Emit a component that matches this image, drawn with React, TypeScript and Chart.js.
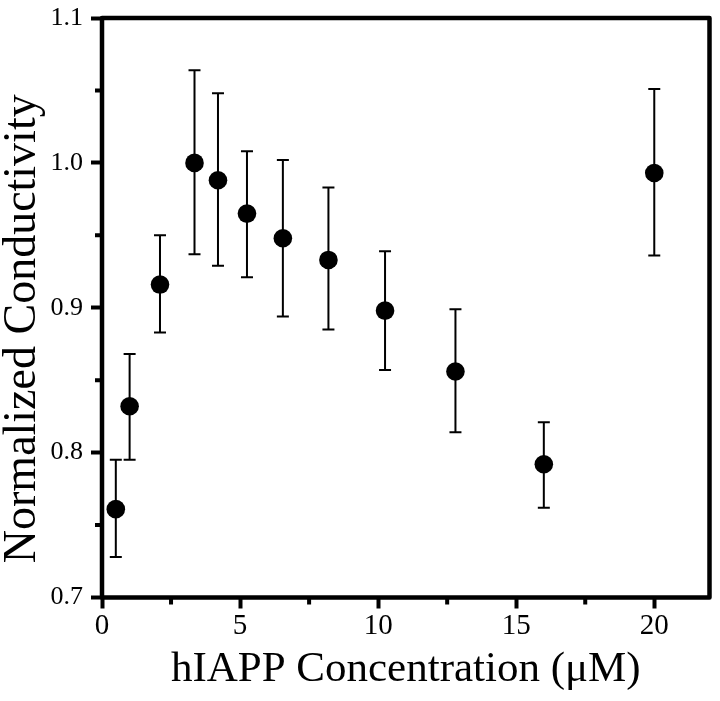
import { useEffect, useRef } from 'react';
import { Chart, registerables } from 'chart.js';

Chart.register(...registerables);

// hIAPP concentration (µM)
const concentrations = [0.5, 1.0, 2.1, 3.35, 4.2, 5.25, 6.55, 8.2, 10.25, 12.8, 16.0, 20.0];
// normalized conductivity (mean)
const conductivity = [0.761, 0.832, 0.916, 1.0, 0.988, 0.965, 0.948, 0.933, 0.898, 0.856, 0.792, 0.993];
// upper / lower ends of the error bars
const errHigh = [0.795, 0.868, 0.95, 1.064, 1.048, 1.008, 1.002, 0.983, 0.939, 0.899, 0.821, 1.051];
const errLow = [0.728, 0.795, 0.883, 0.937, 0.929, 0.921, 0.894, 0.885, 0.857, 0.814, 0.762, 0.936];

const xMajorTicks = [0, 5, 10, 15, 20];
const xMinorTicks = [2.5, 7.5, 12.5, 17.5];
const yMajorTicks = [0.7, 0.8, 0.9, 1.0, 1.1];
const yMinorTicks = [0.75, 0.85, 0.95, 1.05];

const xTitle = 'hIAPP Concentration (\u03bcM)';
const yTitle = 'Normalized Conductivity';

const FONT = '"Liberation Serif", "Times New Roman", serif';

const decorPlugin = {
  id: 'decor',
  beforeDatasetsDraw(chart: any) {
    const { ctx } = chart;
    const xs = chart.scales.x;
    const ys = chart.scales.y;
    ctx.save();
    ctx.strokeStyle = '#000';
    ctx.lineWidth = 2;
    ctx.lineCap = 'butt';
    for (let i = 0; i < concentrations.length; i++) {
      const px = xs.getPixelForValue(concentrations[i]);
      const pHi = ys.getPixelForValue(errHigh[i]);
      const pLo = ys.getPixelForValue(errLow[i]);
      ctx.beginPath();
      ctx.moveTo(px, pHi);
      ctx.lineTo(px, pLo);
      ctx.moveTo(px - 6, pHi);
      ctx.lineTo(px + 6, pHi);
      ctx.moveTo(px - 6, pLo);
      ctx.lineTo(px + 6, pLo);
      ctx.stroke();
    }
    ctx.restore();
  },
  afterDraw(chart: any) {
    const { ctx, chartArea } = chart;
    const xs = chart.scales.x;
    const ys = chart.scales.y;
    ctx.save();
    ctx.strokeStyle = '#000';
    // minor ticks
    ctx.lineWidth = 4;
    ctx.beginPath();
    for (const v of xMinorTicks) {
      const px = xs.getPixelForValue(v);
      ctx.moveTo(px, chartArea.bottom);
      ctx.lineTo(px, chartArea.bottom + 7);
    }
    for (const v of yMinorTicks) {
      const py = ys.getPixelForValue(v);
      ctx.moveTo(chartArea.left, py);
      ctx.lineTo(chartArea.left - 7, py);
    }
    ctx.stroke();
    // frame
    ctx.lineWidth = 4.5;
    ctx.lineJoin = 'round';
    ctx.strokeRect(
      chartArea.left,
      chartArea.top,
      chartArea.right - chartArea.left,
      chartArea.bottom - chartArea.top
    );
    // y title
    ctx.fillStyle = '#000';
    ctx.font = `46px ${FONT}`;
    ctx.textAlign = 'center';
    ctx.textBaseline = 'middle';
    ctx.translate(23, (chartArea.top + chartArea.bottom) / 2 + 21);
    ctx.rotate(-Math.PI / 2);
    ctx.fillText(yTitle, 0, 0);
    ctx.restore();
  },
};

export default function App() {
  const ref = useRef<HTMLCanvasElement | null>(null);

  useEffect(() => {
    document.body.style.margin = '0';
    const canvas = ref.current;
    if (!canvas) return;
    const chart = new Chart(canvas, {
      type: 'scatter',
      data: {
        datasets: [
          {
            data: concentrations.map((x, i) => ({ x, y: conductivity[i] })),
            backgroundColor: '#000',
            borderColor: '#000',
            borderWidth: 0,
            pointRadius: 9.3,
            pointHoverRadius: 9.3,
            showLine: false,
          },
        ],
      },
      options: {
        animation: false,
        responsive: false,
        devicePixelRatio: 1,
        layout: { padding: { top: 18, right: 10.5, left: 0, bottom: 0 } },
        plugins: { legend: { display: false }, tooltip: { enabled: false } },
        scales: {
          x: {
            type: 'linear',
            min: 0,
            max: 22,
            afterBuildTicks: (s: any) => {
              s.ticks = xMajorTicks.map((v) => ({ value: v }));
            },
            afterFit: (s: any) => {
              s.height = 103.5;
              s.paddingLeft = 0;
              s.paddingRight = 0;
            },
            border: { display: false },
            grid: {
              drawOnChartArea: false,
              drawTicks: true,
              tickLength: 11,
              tickWidth: 4,
              tickColor: '#000',
            },
            ticks: {
              color: '#000',
              font: { family: FONT, size: 29 },
              padding: 0,
              maxRotation: 0,
              callback: (v: any) => String(v),
            },
            title: {
              display: true,
              text: xTitle,
              color: '#000',
              font: { family: FONT, size: 43 },
              padding: { top: 0, bottom: 5 },
            },
          },
          y: {
            type: 'linear',
            min: 0.7,
            max: 1.1,
            afterBuildTicks: (s: any) => {
              s.ticks = yMajorTicks.map((v) => ({ value: v }));
            },
            afterFit: (s: any) => {
              s.width = 102;
              s.paddingTop = 0;
              s.paddingBottom = 0;
            },
            border: { display: false },
            grid: {
              drawOnChartArea: false,
              drawTicks: true,
              tickLength: 11,
              tickWidth: 4,
              tickColor: '#000',
            },
            ticks: {
              color: '#000',
              font: { family: FONT, size: 26 },
              padding: 8,
              callback: (v: any) => Number(v).toFixed(1),
            },
            title: { display: false },
          },
        },
      },
      plugins: [decorPlugin],
    });
    return () => chart.destroy();
  }, []);

  return (
    <div style={{ width: 720, height: 701 }}>
      <canvas ref={ref} width={720} height={701} style={{ display: 'block', width: 720, height: 701 }} />
    </div>
  );
}
